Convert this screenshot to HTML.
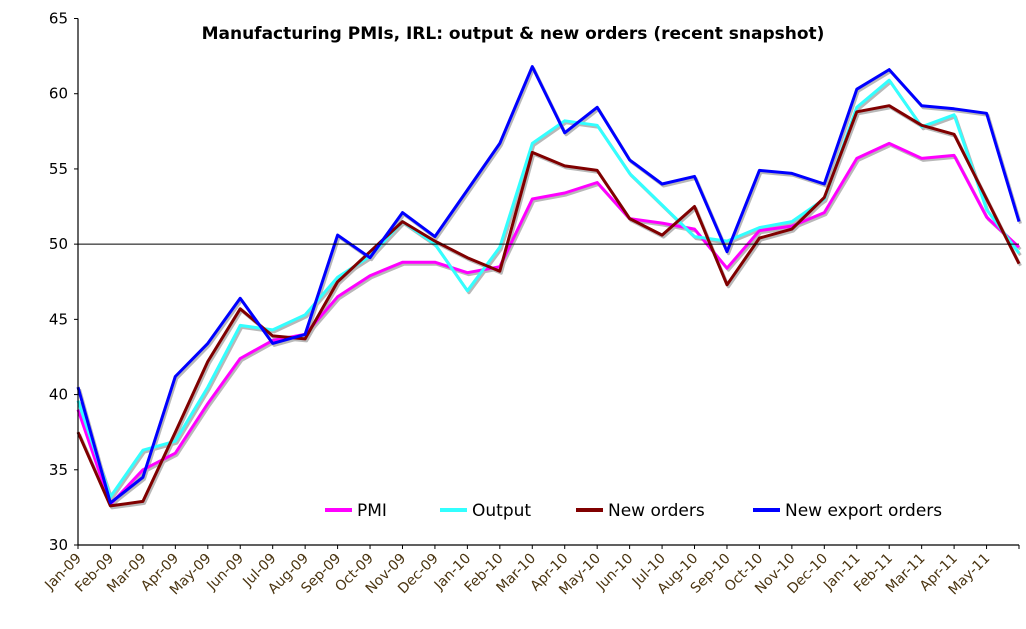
<!DOCTYPE html>
<html><head><meta charset="utf-8">
<style>
html,body{margin:0;padding:0;background:#fff;}
svg{display:block;font-family:"DejaVu Sans","Liberation Sans",sans-serif;}
</style></head>
<body>
<svg id="chart" width="1026" height="629" viewBox="0 0 1026 629">
<text x="513" y="39" text-anchor="middle" font-size="17" font-weight="bold" fill="#000">Manufacturing PMIs, IRL: output &amp; new orders (recent snapshot)</text>
<g id="shadows"></g><g id="lines"></g><g id="axes"></g>
<g id="legend"></g>
</svg>
<script>
const categories=["Jan-09","Feb-09","Mar-09","Apr-09","May-09","Jun-09","Jul-09","Aug-09","Sep-09","Oct-09","Nov-09","Dec-09","Jan-10","Feb-10","Mar-10","Apr-10","May-10","Jun-10","Jul-10","Aug-10","Sep-10","Oct-10","Nov-10","Dec-10","Jan-11","Feb-11","Mar-11","Apr-11","May-11","Jun-11"];
const pmi=[39,32.7,35,36.1,39.4,42.4,43.6,44.0,46.5,47.9,48.8,48.8,48.1,48.5,53.0,53.4,54.1,51.7,51.4,51.0,48.4,50.9,51.2,52.1,55.7,56.7,55.7,55.9,51.8,49.8];
const output=[39.6,33.2,36.3,36.9,40.5,44.6,44.3,45.3,47.8,49.2,51.5,50.0,46.9,49.8,56.7,58.2,57.9,54.7,52.6,50.5,50.2,51.1,51.5,53.0,59.1,60.9,57.8,58.6,52.3,49.4];
const newOrders=[37.5,32.6,32.9,37.5,42.2,45.7,43.9,43.7,47.5,49.5,51.5,50.2,49.1,48.2,56.1,55.2,54.9,51.7,50.6,52.5,47.3,50.4,51.0,53.1,58.8,59.2,57.9,57.3,53.0,48.7];
const exportOrders=[40.5,32.8,34.5,41.2,43.4,46.4,43.4,44.0,50.6,49.1,52.1,50.5,53.6,56.7,61.8,57.4,59.1,55.6,54.0,54.5,49.5,54.9,54.7,54.0,60.3,61.6,59.2,59.0,58.7,51.5];
const yTicks=[30,35,40,45,50,55,60,65];
const seriesNames=["PMI","Output","New orders","New export orders"];

const NS="http://www.w3.org/2000/svg";
const X0=78,X1=1019,Y0=545,Y1=18.5,VMIN=30,VMAX=65;
function xs(i){return X0+i*(X1-X0)/(categories.length-1);}
function ys(v){return Y0-(v-VMIN)*(Y0-Y1)/(VMAX-VMIN);}
function mk(tag,attrs,parent){const e=document.createElementNS(NS,tag);for(const k in attrs)e.setAttribute(k,attrs[k]);parent.appendChild(e);return e;}

const axes=document.getElementById('axes');
yTicks.forEach(v=>{
  const t=mk('line',{x1:X0-4,x2:X0,y1:ys(v),y2:ys(v),stroke:'#000','stroke-width':1},axes);
  
  
  const l=mk('text',{x:X0-10,y:ys(v)+5,'text-anchor':'end','font-size':15,fill:'#000'},axes);
  l.textContent=v;
  
  
});
const ref=mk('line',{x1:X0,x2:X1,y1:ys(50),y2:ys(50),stroke:'#000','stroke-width':1},axes);


const ya=mk('line',{x1:X0,x2:X0,y1:Y1,y2:Y0,stroke:'#000','stroke-width':1.2},axes);


const xa=mk('line',{x1:X0,x2:X1,y1:Y0,y2:Y0,stroke:'#000','stroke-width':1.2},axes);


categories.forEach((c,i)=>{
  const x=xs(i);
  const t=mk('line',{x1:x,x2:x,y1:Y0,y2:Y0+4,stroke:'#000','stroke-width':1},axes);
  
  
  if(i<categories.length-1){
    const l=mk('text',{x:x+4,y:Y0+14,'text-anchor':'end','font-size':14,fill:'#4a3410',transform:`rotate(-45 ${x+4} ${Y0+14})`},axes);
    l.textContent=c;
    
    
  }
});
const seriesData=[pmi,output,newOrders,exportOrders];
const colors=["#ff00ff","#33ffff","#800000","#0000ff"];
const names=["series-pmi","series-output","series-new-orders","series-new-export-orders"];
const sh=document.getElementById('shadows'),ln=document.getElementById('lines');
seriesData.forEach((d,si)=>{
  const pts=d.map((v,i)=>xs(i).toFixed(1)+','+ys(v).toFixed(1)).join(' ');
  const s=mk('polyline',{points:pts,fill:'none',stroke:'#b8b8b8','stroke-width':3,transform:'translate(1.5,2)','stroke-linejoin':'round'},sh);
  
  
  const p=mk('polyline',{points:pts,fill:'none',stroke:colors[si],'stroke-width':3,'stroke-linejoin':'round'},ln);
  
  
});
const lg=document.getElementById('legend');
const lx=[325,440,576,753];
seriesNames.forEach((n,i)=>{
  const g=mk('g',{},lg);
  
  
  mk('line',{x1:lx[i],x2:lx[i]+27,y1:510,y2:510,stroke:colors[i],'stroke-width':4},g);
  const t=mk('text',{x:lx[i]+32,y:516,'font-size':17,fill:'#000'},g);
  t.textContent=n;
});
</script>
</body></html>
